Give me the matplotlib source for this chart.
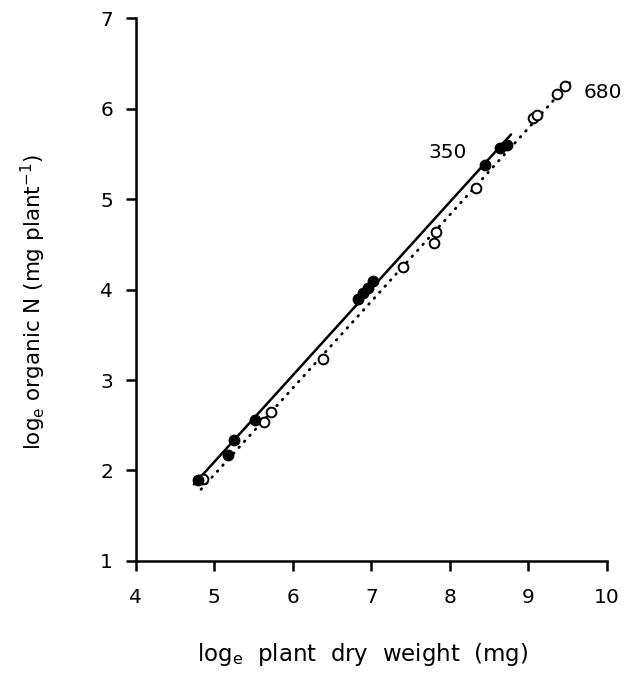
import numpy as np
import matplotlib
matplotlib.use("Agg")
import matplotlib.pyplot as plt

plt.rcParams['font.family'] = ['DejaVu Sans']
plt.rcParams['mathtext.fontset'] = 'dejavusans'

# CO2 350 (filled)
x350 = [4.79, 5.17, 5.25, 5.52, 6.83, 6.89, 6.96, 7.02, 8.45, 8.64, 8.73]
y350 = [1.90, 2.17, 2.34, 2.56, 3.90, 3.96, 4.02, 4.09, 5.38, 5.56, 5.60]
# CO2 680 (open)
x680 = [4.85, 5.63, 5.72, 6.39, 7.41, 7.80, 7.83, 8.34, 9.06, 9.11, 9.36, 9.47]
y680 = [1.91, 2.54, 2.65, 3.23, 4.25, 4.52, 4.64, 5.12, 5.90, 5.93, 6.16, 6.25]

xticks = [4, 5, 6, 7, 8, 9, 10]
yticks = [1, 2, 3, 4, 5, 6, 7]

fig = plt.figure(figsize=(6.38, 6.75), dpi=100)
ax = fig.add_axes([0.213, 0.169, 0.738, 0.804])

# fitted lines
b1 = np.polyfit(x350, y350, 1)
xs1 = np.array([min(x350) - 0.05, max(x350) + 0.05])
ax.plot(xs1, np.polyval(b1, xs1), color='black', lw=1.8, solid_capstyle='round')
b2 = np.polyfit(x680, y680, 1)
xs2 = np.array([min(x680) - 0.02, max(x680) + 0.06])
ax.plot(xs2, np.polyval(b2, xs2), color='black', lw=2.0,
        linestyle=(0, (0.3, 2.6)), dash_capstyle='round')

ax.plot(x680, y680, linestyle='none', marker='o', ms=7, mfc='white',
        mec='black', mew=1.4)
ax.plot(x350, y350, linestyle='none', marker='o', ms=7.5, mfc='black',
        mec='black')

ax.text(7.97, 5.52, '350', fontsize=14.5, ha='center', va='center')
ax.text(9.95, 6.18, '680', fontsize=14.5, ha='center', va='center')

ax.set_xlim(4, 10)
ax.set_ylim(1, 7)
ax.set_xticks(xticks)
ax.set_yticks(yticks)
for s in ['top', 'right']:
    ax.spines[s].set_visible(False)
for s in ['left', 'bottom']:
    ax.spines[s].set_linewidth(1.8)
ax.tick_params(direction='out', length=7.5, width=1.8, labelsize=14.5)
ax.tick_params(axis='x', pad=12)
ax.tick_params(axis='y', pad=9)

fig.text(363 / 638, 1 - 655 / 675, r'log$_\mathregular{e}$  plant  dry  weight  (mg)',
         fontsize=16.5, ha='center', va='center')
fig.text(33 / 638, 1 - 302 / 675, r'log$_\mathregular{e}$ organic N (mg plant$^\mathregular{-1}$)',
         fontsize=15.5, ha='center', va='center', rotation=90)

fig.savefig('out.png', dpi=100)
